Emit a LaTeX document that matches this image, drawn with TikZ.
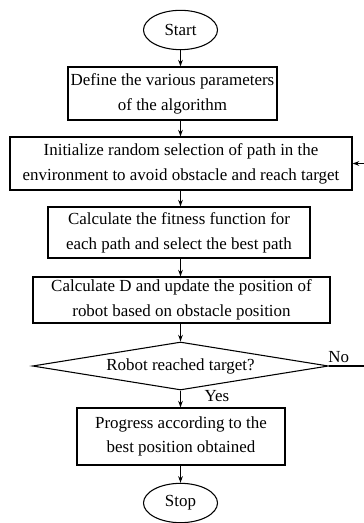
\documentclass[tikz,border=0pt]{standalone}
\usepackage{fontspec}
\setmainfont{Liberation Serif}
\usetikzlibrary{shapes.geometric,arrows.meta}

\tikzset{
  flowline/.style={line width=0.8pt, -{Stealth[length=5pt,width=3.5pt]}},
  plainline/.style={line width=0.8pt},
  procbox/.style={draw, line width=0.8pt, align=center, inner sep=0pt,
                  font=\fontsize{12.7}{18.6}\selectfont},
  terminal/.style={draw, ellipse, line width=0.8pt, inner sep=0pt,
                   minimum width=55.5pt, minimum height=29.5pt,
                   font=\fontsize{12.7}{15}\selectfont},
  decision/.style={draw, diamond, aspect=6.1, line width=0.8pt, inner sep=0pt,
                   minimum width=222pt, minimum height=36pt,
                   font=\fontsize{12.7}{15}\selectfont},
  tag/.style={font=\fontsize{12.7}{15}\selectfont, inner sep=0pt}
}

\begin{document}
\begin{tikzpicture}[x=0.75pt,y=-0.75pt]
  \useasboundingbox (0,0) rectangle (363,523);

  % terminals
  \node[terminal] (start) at (180.5,30) {Start};
  \node[terminal] (stop) at (180.5,503) {Stop};

  % process boxes
  \node[procbox, minimum width=156.75pt, minimum height=39.75pt] (define) at (172.5,93.5)
    {Define the various parameters\\of the algorithm};
  \node[procbox, minimum width=256.5pt, minimum height=39.75pt] (init) at (181,163.5)
    {Initialize random selection of path in the\\environment to avoid obstacle and reach target};
  \node[procbox, minimum width=196.5pt, minimum height=38.25pt] (fitness) at (179,232.5)
    {Calculate the fitness function for\\each path and select the best path};
  \node[procbox, minimum width=222.75pt, minimum height=34.5pt] (update) at (181.5,300)
    {Calculate D and update the position of\\robot based on obstacle position};
  \node[decision] (check) at (180.5,366) {Robot reached target?};
  \node[procbox, minimum width=156pt, minimum height=42.75pt] (progress) at (181,436.5)
    {Progress according to the\\best position obtained};

  % loop-back route, running off the right edge
  \coordinate (loopA) at (368,366);
  \coordinate (loopB) at (368,163.5);

  % main flow
  \draw[flowline] (start) -- (start |- define.north);
  \draw[flowline] (start |- define.south) -- (start |- init.north);
  \draw[flowline] (start |- init.south) -- (start |- fitness.north);
  \draw[flowline] (start |- fitness.south) -- (start |- update.north);
  \draw[flowline] (start |- update.south) -- (check.north);
  \draw[flowline] (check.south) -- (check.south |- progress.north);
  \draw[flowline] (check.south |- progress.south) -- (stop);

  % "No" branch back to the initialization step
  \draw[plainline] (check.east) -- (loopA) -- (loopB);
  \draw[flowline] (loopB) -- (init.east);

  % branch labels
  \node[tag, anchor=base west] (no) at (328,362) {No};
  \node[tag] (yes) at (217,396) {Yes};
\end{tikzpicture}
\end{document}
